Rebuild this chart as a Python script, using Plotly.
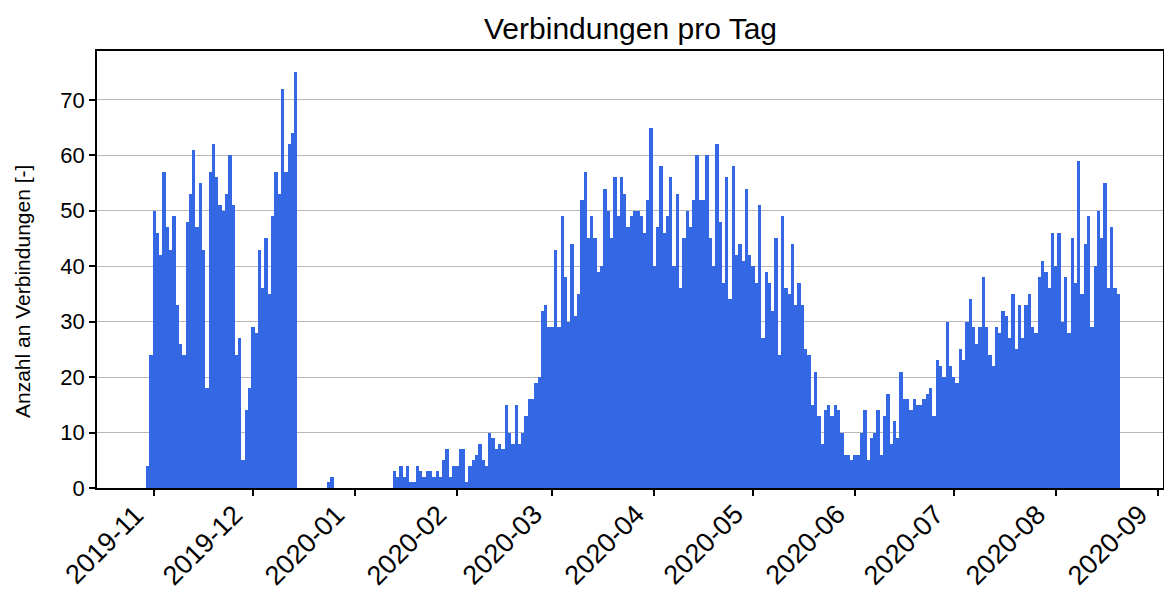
import pandas as pd
import plotly.graph_objects as go

# Daily connection counts
start_nov_dec = "2019-10-30"
counts_nov_dec = [4, 24, 50, 46, 42, 57, 47, 43, 49, 33, 26, 24, 48, 53, 61, 47, 55, 43, 18, 57,
                  62, 56, 51, 50, 53, 60, 51, 24, 27, 5, 14, 18, 29, 28, 43, 36, 45, 35, 49, 57,
                  53, 72, 57, 62, 64, 75]
# 2019-12-15 .. 2020-01-12
counts_holiday = [0, 0, 0, 0, 0, 0, 0, 0, 0, 1, 2, 0, 0, 0, 0, 0, 0, 0, 0, 0,
                  0, 0, 0, 0, 0, 0, 0, 0, 0]
# 2020-01-13 .. 2020-08-20
counts_2020 = [3, 2, 4, 2, 4, 1, 1, 4, 3, 2, 3, 3, 2, 3, 2, 5, 7, 2, 4, 4, 7, 7, 1, 4,
               5, 6, 8, 5, 4, 10, 9, 7, 8, 7, 15, 10, 8, 15, 8, 10, 13, 16, 16, 19, 20, 32, 33, 29,
               29, 43, 29, 49, 38, 30, 44, 31, 35, 52, 57, 45, 49, 45, 39, 40, 54, 50, 45, 56, 49, 56, 53,
               47, 49, 50, 50, 49, 46, 52, 65, 40, 47, 58, 46, 49, 56, 40, 53, 36, 45, 50, 47, 52, 60, 52,
               52, 60, 45, 40, 62, 48, 37, 56, 34, 58, 42, 44, 41, 54, 42, 40, 37, 51, 27, 39, 37, 32, 45,
               24, 49, 36, 35, 44, 33, 37, 33, 25, 24, 15, 21, 13, 8, 14, 15, 13, 15, 14, 10, 6, 6,
               5, 6, 6, 10, 14, 5, 9, 10, 14, 6, 13, 17, 8, 12, 9, 21, 16, 16, 14, 16, 15, 15, 16,
               17, 18, 13, 23, 22, 20, 30, 22, 20, 19, 25, 23, 30, 34, 29, 26, 29, 38, 29, 24, 22, 29, 28, 32, 31,
               27, 35, 25, 33, 27, 33, 35, 29, 28, 38, 41, 39, 36, 46, 40, 46, 30, 38, 28, 45, 37, 59, 35, 44,
               49, 29, 40, 50, 45, 55, 36, 47, 36, 35]

title_text = "Verbindungen pro Tag"
ylabel_text = "Anzahl an Verbindungen [-]"
y_ticks = [0, 10, 20, 30, 40, 50, 60, 70]
x_tick_dates = ["2019-11-01", "2019-12-01", "2020-01-01", "2020-02-01", "2020-03-01", "2020-04-01",
                "2020-05-01", "2020-06-01", "2020-07-01", "2020-08-01", "2020-09-01"]
x_tick_labels = ["2019-11", "2019-12", "2020-01", "2020-02", "2020-03", "2020-04",
                 "2020-05", "2020-06", "2020-07", "2020-08", "2020-09"]

counts = counts_nov_dec + counts_holiday + counts_2020
dates = pd.date_range(start_nov_dec, periods=len(counts), freq="D")

ref = pd.Timestamp("2019-11-01")
x0 = ref + pd.Timedelta(days=-17.4)
x1 = ref + pd.Timedelta(days=306.6)

FONT = "Liberation Sans, Arial, Helvetica, sans-serif"
BAR = "#3467e3"
L, R, T, B = 97, 1, 51, 106
PW, PH = 1164 - L - R, 594 - T - B

fig = go.Figure(go.Bar(x=dates, y=counts, width=86400000, marker=dict(color=BAR, line=dict(width=0))))

fig.update_layout(
    width=1164, height=594,
    margin=dict(l=L, r=R, t=T, b=B, autoexpand=False),
    paper_bgcolor="white", plot_bgcolor="white",
    bargap=0, showlegend=False,
    font=dict(family=FONT, size=20, color="black"),
)
fig.update_xaxes(
    range=[x0, x1], type="date", tickvals=x_tick_dates, showticklabels=False,
    ticks="outside", ticklen=6, tickwidth=1.5, tickcolor="black",
    showline=True, linecolor="black", linewidth=1.5, mirror=True, showgrid=False,
    automargin=False,
)
fig.update_yaxes(
    range=[0, 78.8], tickvals=y_ticks, ticks="outside", ticklen=6, tickwidth=1.5, tickcolor="black",
    showline=True, linecolor="black", linewidth=1.5, mirror=True,
    showgrid=True, gridcolor="#b8b8b8", gridwidth=1.3, zeroline=False,
    automargin=False, tickfont=dict(family=FONT, size=22, color="black"),
)
# rotated x tick labels
for d, lab in zip(x_tick_dates, x_tick_labels):
    fig.add_annotation(text=lab, x=d, xref="x", y=-(545 - (T + PH)) / PH, yref="paper",
                       xanchor="center", yanchor="middle", xshift=-50, textangle=-45,
                       showarrow=False, font=dict(family=FONT, size=27, color="black"))
fig.add_annotation(text=title_text, xref="paper", yref="paper",
                   x=0.5, y=1 + (T - 28) / PH, xanchor="center", yanchor="middle",
                   showarrow=False, font=dict(family=FONT, size=30, color="black"))
fig.add_annotation(text=ylabel_text, textangle=-90, xref="paper", yref="paper",
                   x=(22 - L) / PW, y=(T + PH - 292) / PH, xanchor="center", yanchor="middle",
                   showarrow=False, font=dict(family=FONT, size=21, color="black"))

fig.write_html("out.html", post_script="document.body.style.margin='0px';",
               config={"displayModeBar": False})
